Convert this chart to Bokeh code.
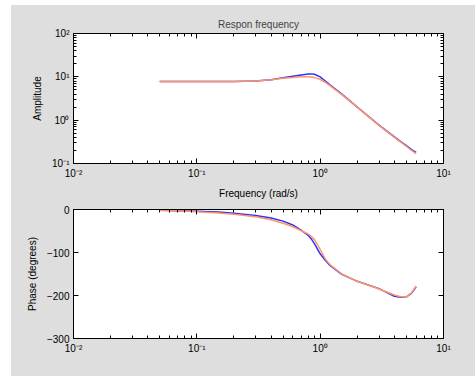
from bokeh.plotting import figure
from bokeh.layouts import column
from bokeh.models import Range1d, LogAxis, LinearAxis, FixedTicker, CustomJSTickFormatter
from bokeh.embed import file_html
from bokeh.resources import INLINE

# ---- data ----
freq = [0.05, 0.07, 0.1, 0.15, 0.2, 0.3, 0.4, 0.5, 0.6, 0.7, 0.8, 0.85, 0.9,
        1.0, 1.1, 1.2, 1.5, 2, 3, 4, 4.5, 5, 5.5, 6]
amp_orange = [7.8, 7.8, 7.8, 7.8, 7.8, 8.0, 8.6, 9.3, 9.7, 10.0, 10.0, 9.9, 9.6,
              8.8, 7.5, 6.3, 3.9, 2.0, 0.76, 0.40, 0.31, 0.25, 0.20, 0.17]
amp_blue = [7.8, 7.8, 7.8, 7.8, 7.8, 8.0, 8.6, 9.5, 10.3, 11.0, 11.6, 11.7, 11.5,
            10.0, 8.0, 6.5, 4.0, 2.0, 0.77, 0.41, 0.32, 0.26, 0.21, 0.18]
phase_orange = [-2, -3, -5, -8, -11, -17, -24, -32, -40, -49, -57, -63, -70,
                -93, -115, -128, -150, -167, -185, -199, -203, -203, -194, -178]
phase_blue = [-2, -3, -4, -6, -9, -14, -20, -27, -36, -48, -60, -69, -80,
              -103, -118, -130, -151, -167, -184, -202, -204, -203, -195, -180]

x_decades = [0.01, 0.1, 1, 10]
amp_decades = [0.1, 1, 10, 100]
phase_ticks = [-300, -200, -100, 0]

title_text = "Respon frequency"
xlabel = "Frequency (rad/s)"
ylabel_top = "Amplitude"
ylabel_bottom = "Phase (degrees)"

BLUE = "#2f2fff"
ORANGE = "#ff9466"
GRAY = "#dedede"
FONT = "Liberation Sans"

sup_code = """
const e = Math.round(Math.log10(tick));
const sup = {'-':'\u207b','0':'\u2070','1':'\u00b9','2':'\u00b2','3':'\u00b3'};
return '10' + String(e).split('').map(c => sup[c]).join('');
"""


def minor_of(decades):
    out = []
    for d in decades[:-1]:
        out += [m * d for m in range(2, 10)]
    return out


def style_axis(ax, ticker, labels=True):
    ax.ticker = ticker
    ax.major_tick_in = 5
    ax.major_tick_out = 0
    ax.minor_tick_in = 3
    ax.minor_tick_out = 0
    ax.axis_line_color = "black"
    ax.major_tick_line_color = "black"
    ax.minor_tick_line_color = "black"
    ax.major_label_text_font = FONT
    ax.major_label_text_font_size = "10px"
    ax.major_label_text_color = "black"
    ax.major_label_standoff = 4
    ax.axis_label_text_font = FONT
    ax.axis_label_text_font_size = "10px"
    ax.axis_label_text_font_style = "normal"
    ax.axis_label_text_color = "black"
    ax.axis_label_standoff = 6
    if not labels:
        ax.major_label_text_font_size = "1px"
        ax.major_label_text_color = None
        ax.major_label_standoff = 0


def make_fig(height, y_log, y_range, border_top, border_bottom):
    p = figure(width=464, height=height, output_backend="svg", toolbar_location=None,
               x_axis_type="log", y_axis_type="log" if y_log else "linear",
               x_range=Range1d(0.01, 10), y_range=y_range,
               min_border_left=62, min_border_right=32,
               min_border_top=border_top, min_border_bottom=border_bottom)
    p.border_fill_color = GRAY
    p.background_fill_color = "white"
    p.outline_line_color = "black"
    p.grid.visible = False
    return p


def xticker():
    return FixedTicker(ticks=x_decades, minor_ticks=minor_of(x_decades))


def logfmt():
    return CustomJSTickFormatter(code=sup_code)


# ---- top: amplitude ----
p1 = make_fig(197, True, Range1d(0.1, 100), 28, 39)
p1.title.text = title_text
p1.title.align = "center"
p1.title.text_font = FONT
p1.title.text_font_size = "10px"
p1.title.text_font_style = "normal"
p1.title.standoff = 8
p1.line(freq, amp_blue, line_color=BLUE, line_width=1.5)
p1.line(freq, amp_orange, line_color=ORANGE, line_width=1.5)
style_axis(p1.xaxis[0], xticker())
p1.xaxis[0].formatter = logfmt()
p1.xaxis[0].axis_label = xlabel
style_axis(p1.yaxis[0], FixedTicker(ticks=amp_decades, minor_ticks=minor_of(amp_decades)))
p1.yaxis[0].formatter = logfmt()
p1.yaxis[0].axis_label = ylabel_top
ax_top = LogAxis()
style_axis(ax_top, xticker(), labels=False)
p1.add_layout(ax_top, "above")
ax_right = LogAxis()
style_axis(ax_right, FixedTicker(ticks=amp_decades, minor_ticks=minor_of(amp_decades)), labels=False)
p1.add_layout(ax_right, "right")

# ---- bottom: phase ----
p2 = make_fig(174, False, Range1d(-300, 0), 7, 38)
p2.line(freq, phase_blue, line_color=BLUE, line_width=1.5)
p2.line(freq, phase_orange, line_color=ORANGE, line_width=1.5)
style_axis(p2.xaxis[0], xticker())
p2.xaxis[0].formatter = logfmt()
style_axis(p2.yaxis[0], FixedTicker(ticks=phase_ticks, minor_ticks=[]))
p2.yaxis[0].axis_label = ylabel_bottom
ax_top2 = LogAxis()
style_axis(ax_top2, xticker(), labels=False)
p2.add_layout(ax_top2, "above")
ax_right2 = LinearAxis()
style_axis(ax_right2, FixedTicker(ticks=phase_ticks, minor_ticks=[]), labels=False)
p2.add_layout(ax_right2, "right")

layout = column(p1, p2, spacing=0, margin=(5, 0, 0, 11),
                styles={"background-color": GRAY})
open("out.html", "w").write(file_html(layout, INLINE))
